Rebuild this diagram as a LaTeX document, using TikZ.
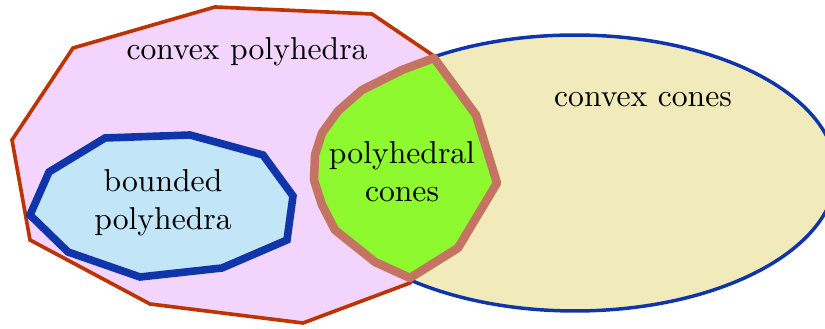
\documentclass[tikz,border=0pt]{standalone}
\usepackage{amssymb}
\usepackage{amsmath}
\usepackage{tikz}

\definecolor{polyfill}{RGB}{243,212,253}
\definecolor{polyline}{RGB}{187,52,2}
\definecolor{conefill}{RGB}{241,235,187}
\definecolor{coneline}{RGB}{16,53,170}
\definecolor{phfill}{RGB}{141,249,46}
\definecolor{phline}{RGB}{197,116,100}
\definecolor{bdfill}{RGB}{195,229,248}

\begin{document}
\begin{tikzpicture}[x=0.316pt, y=-0.316pt]
    \useasboundingbox (0,0) rectangle (825,329);
    \clip (0,0) rectangle (825,329);
    
    % Kūgiai
    \coordinate (K) at (575,173);
    \draw[line width=1.1pt, draw=coneline, fill=conefill] (K) ellipse [x radius=82.5pt, y radius=43.6pt];
    
    % Briaunainiai
    \draw[line width=1.15pt, draw=polyline, fill=polyfill, line join=miter]
        (215,7) -- (372,14) -- (434,56) -- (410,283) -- (303,323) -- (150,304)
        -- (30,240) -- (12,140) -- (73,48) -- cycle;
    
    % Apriboti
    \draw[line width=2.4pt, draw=coneline, fill=bdfill, line join=miter]
        (105,138) -- (190,135) -- (263,155) -- (293,196) -- (287,240) -- (222,268)
        -- (140,277) -- (68,252) -- (30,215) -- (49,172) -- cycle;
    
    % Briaunainiai kūgiai
    \draw[line width=2.7pt, draw=phline, fill=phfill, line join=round]
        (434,58) -- (476,115) -- (497,183) -- (458,248) -- (410,278) -- (375,262)
        -- (335,230) -- (322,205) -- (314,180) -- (315,155) -- (322,133) -- (338,111)
        -- (362,90) -- (402,70) -- cycle;
    
    \foreach \n/\pos/\txt in {cp/{(247,52)}/{convex polyhedra}, cc/{(643,100)}/{convex cones},
        pc/{(402,172)}/{polyhedral\\cones}, bp/{(163,203)}/{bounded\\polyhedra}} {
        \node[align=center, inner sep=0pt] (\n) at \pos {\txt};
    }
\end{tikzpicture}
\end{document}
